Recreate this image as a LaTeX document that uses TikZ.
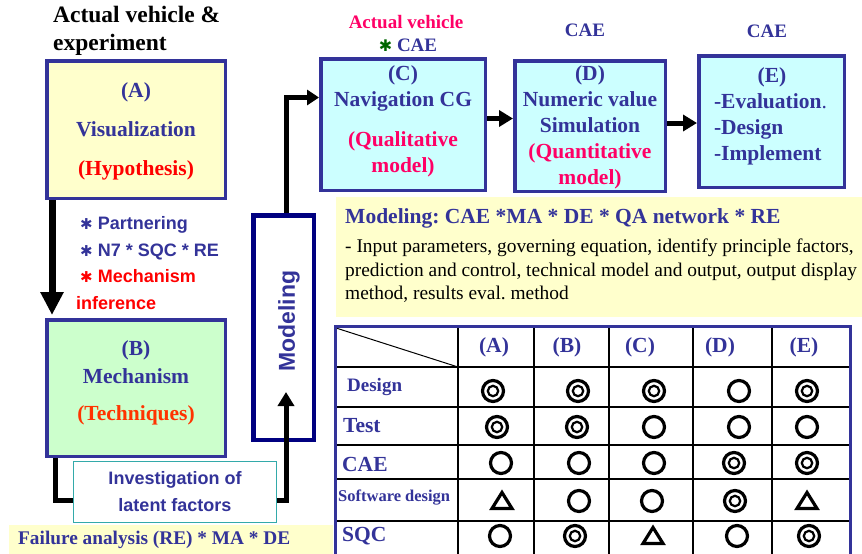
\documentclass[tikz,border=0pt]{standalone}
\usepackage{fontspec}
\setmainfont{Liberation Serif}
\setsansfont{Liberation Sans}
\newfontfamily\dingfont{DejaVu Sans}
\usetikzlibrary{arrows.meta}
\frenchspacing
\definecolor{pptblue}{HTML}{333399}
\definecolor{navyline}{HTML}{000080}
\definecolor{paleyellow}{HTML}{FFFFCC}
\definecolor{palegreen}{HTML}{CCFFCC}
\definecolor{palecyan}{HTML}{CCFFFF}
\definecolor{hotpink}{HTML}{FF0066}
\definecolor{flame}{HTML}{FF3300}
\definecolor{tealline}{HTML}{33AAAA}
\definecolor{stargreen}{HTML}{006600}
\tikzset{
  stagebox/.style={draw=pptblue, line width=3.5pt, inner sep=0pt},
  stagetext/.style={font=\fontsize{21.5}{26}\selectfont\bfseries, text=pptblue, align=center, inner sep=0pt},
  toplabel/.style={font=\fontsize{19}{22}\selectfont\bfseries, text=pptblue, inner sep=0pt},
  flowline/.style={line width=5pt, -{Triangle[width=16pt,length=14pt]}},
  symline/.style={line width=3.2pt},
  gridline/.style={line width=1.3pt},
  cellhead/.style={font=\fontsize{21.5}{24}\selectfont\bfseries, text=pptblue, inner sep=0pt}
}
\begin{document}
\begin{tikzpicture}[x=1pt,y=-1pt]
\useasboundingbox (0,0) rectangle (862,554);

% background strips
\node[fill=paleyellow, minimum width=526pt, minimum height=120pt, inner sep=0pt] (note) at (599,257) {};
\node[fill=paleyellow, minimum width=324pt, minimum height=31pt, inner sep=0pt] (failstrip) at (171,540) {};

% title
\node[anchor=west, align=left, font=\fontsize{23.5}{28}\selectfont\bfseries, inner sep=0pt] (title) at (53,31) {Actual vehicle \&\\experiment};

% stage boxes
\node[stagebox, fill=paleyellow, minimum width=178.5pt, minimum height=137.5pt] (boxA) at (136,129.5) {};
\node[stagetext, font=\fontsize{21.5}{39}\selectfont\bfseries] (txtA) at (136,131) {(A)\\Visualization\\{\color{red}(Hypothesis)}};
\node[stagebox, fill=palegreen, minimum width=178.5pt, minimum height=136.5pt] (boxB) at (136,388) {};
\node[stagetext, font=\fontsize{21.5}{28}\selectfont\bfseries] (txtB) at (136,382.5) {(B)\\Mechanism\\[9pt]{\color{flame}(Techniques)}};
\node[stagebox, fill=palecyan, minimum width=164.5pt, minimum height=131.5pt] (boxC) at (403,124.5) {};
\node[stagetext] (txtC) at (403,121) {(C)\\Navigation CG\\[14pt]{\color{hotpink}(Qualitative}\\{\color{hotpink}model)}};
\node[stagebox, fill=palecyan, minimum width=150.5pt, minimum height=130.5pt] (boxD) at (590,126) {};
\node[stagetext] (txtD) at (590,127.5) {(D)\\Numeric value\\Simulation\\{\color{hotpink}(Quantitative}\\{\color{hotpink}model)}};
\node[stagebox, fill=palecyan, minimum width=145.5pt, minimum height=131.5pt] (boxE) at (771.5,121.5) {};
\node[stagetext, align=left, text width=116pt] (txtE) at (772,116) {\hfil(E)\hfil\\-Evaluation{\mdseries.}\\-Design\\-Implement};

% labels above the stages
\node[toplabel, text=hotpink] (lblC1) at (406,22) {Actual vehicle};
\node[toplabel] (lblC2) at (408,45) {{\dingfont\fontsize{16}{16}\selectfont\color{stargreen}✱} CAE};
\node[toplabel] (lblD) at (585,30) {CAE};
\node[toplabel] (lblE) at (767,31) {CAE};

% bullets between A and B
\node[anchor=west, align=left, font=\fontsize{18}{26.7}\selectfont\sffamily\bfseries, text=pptblue, inner sep=0pt] (bullets) at (76,263)
  {\hspace*{4pt}{\dingfont\fontsize{15}{16}\selectfont ✱} Partnering\\
   \hspace*{4pt}{\dingfont\fontsize{15}{16}\selectfont ✱} N7 * SQC * RE\\
   {\color{red}\hspace*{4pt}{\dingfont\fontsize{15}{16}\selectfont ✱} Mechanism}\\
   {\color{red}inference}};

% modeling column and latent factors box
\node[draw=navyline, fill=white, line width=4.5pt, minimum width=60.5pt, minimum height=224.5pt, inner sep=0pt] (modeling) at (283.5,327.5) {};
\node[rotate=90, font=\fontsize{23}{24}\selectfont\sffamily\bfseries, text=pptblue, inner sep=0pt] (modtxt) at (289,321) {Modeling};
\node[draw=tealline, fill=white, line width=1.2pt, minimum width=203pt, minimum height=61pt, inner sep=0pt, align=center,
  font=\fontsize{18}{27}\selectfont\sffamily\bfseries, text=pptblue] (invest) at (175,492) {Investigation of\\latent factors};

% note text
\node[anchor=west, font=\fontsize{21.5}{24}\selectfont\bfseries, text=pptblue, inner sep=0pt] (notehead) at (345,218) {Modeling: CAE *MA * DE * QA network * RE};
\node[anchor=north west, align=left, font=\fontsize{19.4}{23.5}\selectfont, inner sep=0pt] (notebody) at (345,239)
  {- Input parameters, governing equation, identify principle factors,\\
   prediction and control, technical model and output, output display\\
   method, results eval. method};

% failure analysis line
\node[anchor=west, font=\fontsize{19.3}{22}\selectfont\bfseries, text=pptblue, inner sep=0pt] (failtxt) at (18,540) {Failure analysis (RE) * MA * DE};

% connectors
\draw[line width=7pt, -{Triangle[width=22pt,length=23pt]}] ([xshift=7pt]boxA.south west) -- ([xshift=7pt,yshift=3pt]boxB.north west);
\draw[line width=5pt] ([xshift=10pt]boxB.south west) |- ([yshift=-8pt]invest.west);
\draw[flowline] ([yshift=-8pt]invest.east) -| ([xshift=2.5pt,yshift=50pt]modeling.south);
\draw[line width=5pt, -{Triangle[width=15pt,length=12pt]}] ([xshift=3pt]modeling.north) |- ([yshift=27pt]boxC.west);
\draw[flowline] ([yshift=6pt]boxC.east) -- ([yshift=6pt]boxC.east -| boxD.west);
\draw[flowline] ([yshift=3pt]boxD.east) -- ([yshift=3pt]boxD.east -| boxE.west);

% table
\fill[white] (335,326) rectangle (850,556);
\foreach \x in {458,534,609,693,772}
  \draw[gridline] (\x,326) -- (\x,556);
\foreach \y in {367,407,445,479,521}
  \draw[gridline] (335,\y) -- (850,\y);
\draw[line width=1pt] (336,328) -- (458,367);
\draw[draw=pptblue, line width=3pt] (335,556) -- (335,326) -- (850,326) -- (850,556);

\foreach \x/\t in {494/A,567/B,640/C,720/D,804/E}
  \node[cellhead] (head\t) at (\x,347) {(\t)};
\node[cellhead, anchor=west, font=\fontsize{19}{22}\selectfont\bfseries] (rowDesign) at (347,387) {Design};
\node[cellhead, anchor=west] (rowTest) at (343,426) {Test};
\node[cellhead, anchor=west] (rowCAE) at (342,464) {CAE};
\node[cellhead, anchor=west, font=\fontsize{16.5}{20}\selectfont\bfseries] (rowSoft) at (338,498) {Software design};
\node[cellhead, anchor=west] (rowSQC) at (342,536) {SQC};

% double circles
\foreach \x/\y in {493/391,578/391,654/391,807/391,497/427,577/427,734/463,807/463,735/501,575/536,809/536}
  {\draw[line width=3.2pt] (\x,\y) circle (10.5pt);
   \draw[line width=2.2pt] (\x,\y) circle (5.2pt);}
% single circles
\foreach \x/\y in {739/391,654/427,739/427,807/427,501/463,579/463,654/463,579/501,652/501,500/536,737/536}
  \draw[symline] (\x,\y) circle (10.5pt);
% triangles
\foreach \x/\y in {502/501,807/501,653/536}
  \draw[symline] (\x-10,\y+7.5) -- (\x+10,\y+7.5) -- (\x,\y-8.5) -- cycle;
\end{tikzpicture}
\end{document}
